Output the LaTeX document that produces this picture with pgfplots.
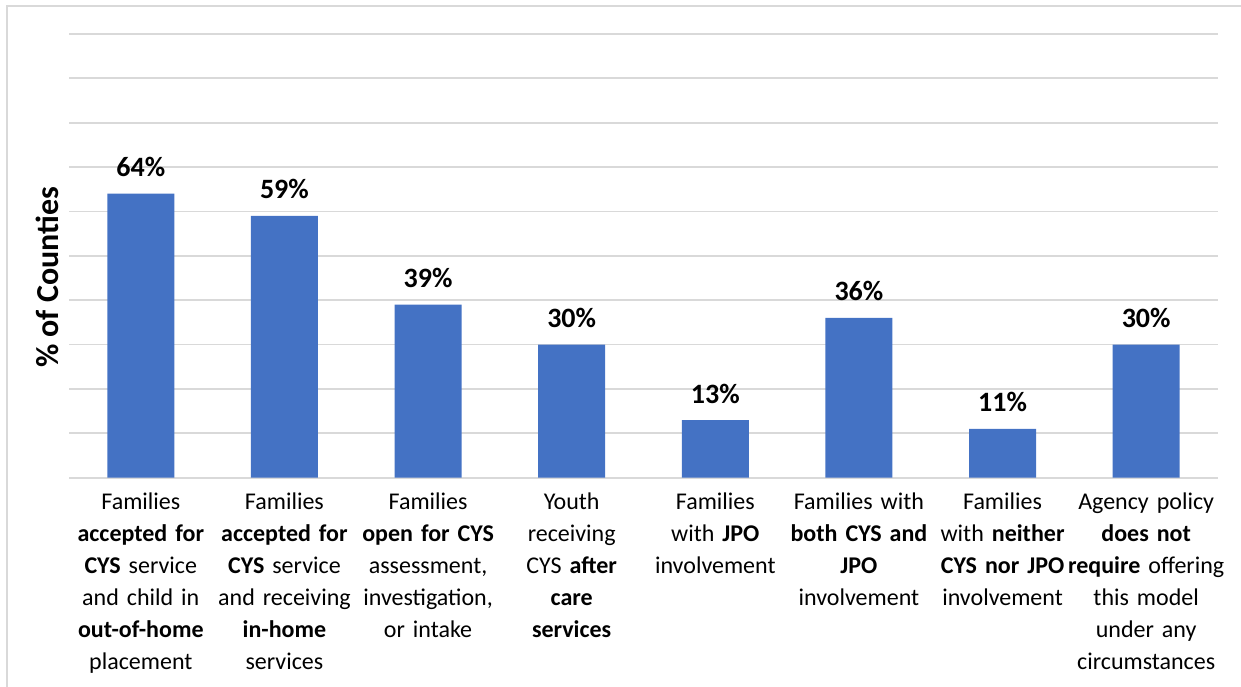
\documentclass[border=0pt]{standalone}
\usepackage{pgfplots}
\pgfplotsset{compat=1.18}
\usepackage{fontspec}
\setmainfont{Carlito}
\definecolor{barblue}{HTML}{4472C4}
\definecolor{gridgray}{HTML}{D9D9D9}
\begin{document}
\begin{tikzpicture}
\useasboundingbox (0,0) rectangle (620.5bp,343.5bp);
\draw[gridgray, line width=0.6bp] (3.5bp,0) -- (3.5bp,340.5bp) -- (620.5bp,340.5bp);
\node[rotate=90, font=\bfseries\fontsize{16bp}{18bp}\selectfont] at (23.5bp,204.75bp) {\% of Counties};
\begin{axis}[
  at={(34.5bp,104.65bp)}, anchor=south west,
  scale only axis, width=574.5bp, height=221.85bp,
  xmin=-0.5, xmax=7.5, ymin=0, ymax=100,
  ytick={0,10,...,100}, yticklabels={},
  ymajorgrids, major grid style={gridgray, line width=0.9bp},
  axis line style={draw=none},
  major tick length=0pt,
  xtick={0,...,7},
  xticklabels={
    {Families\\\textbf{accepted for}\\\textbf{CYS} service\\and child in\\\textbf{out-of-home}\\placement},
    {Families\\\textbf{accepted for}\\\textbf{CYS} service\\and receiving\\\textbf{in-home}\\services},
    {Families\\\textbf{open for CYS}\\assessment,\\investigation,\\or intake},
    {Youth\\receiving\\CYS \textbf{after}\\\textbf{care}\\\textbf{services}},
    {Families\\with \textbf{JPO}\\involvement},
    {Families with\\\textbf{both CYS and}\\\textbf{JPO}\\involvement},
    {Families\\with \textbf{neither}\\\textbf{CYS nor JPO}\\involvement},
    {Agency policy\\\textbf{does not}\\\textbf{require} offering\\this model\\under any\\circumstances}
  },
  xticklabel style={text width=90bp, align=center, anchor=north, inner sep=0pt, yshift=-7.5bp,
    font=\fontsize{12bp}{16bp}\selectfont},
  ybar, bar width=33.5bp,
  nodes near coords={\pgfmathprintnumber[assume math mode=true]{\pgfplotspointmeta}\%},
  every node near coord/.append style={anchor=base, yshift=8.5bp, inner sep=0pt,
    font=\bfseries\fontsize{14bp}{16bp}\selectfont, text=black},
  clip=false,
]
\addplot[fill=barblue, draw=none] coordinates {(0,64) (1,59) (2,39) (3,30) (4,13) (5,36) (6,11) (7,30)};
\end{axis}
\end{tikzpicture}
\end{document}
